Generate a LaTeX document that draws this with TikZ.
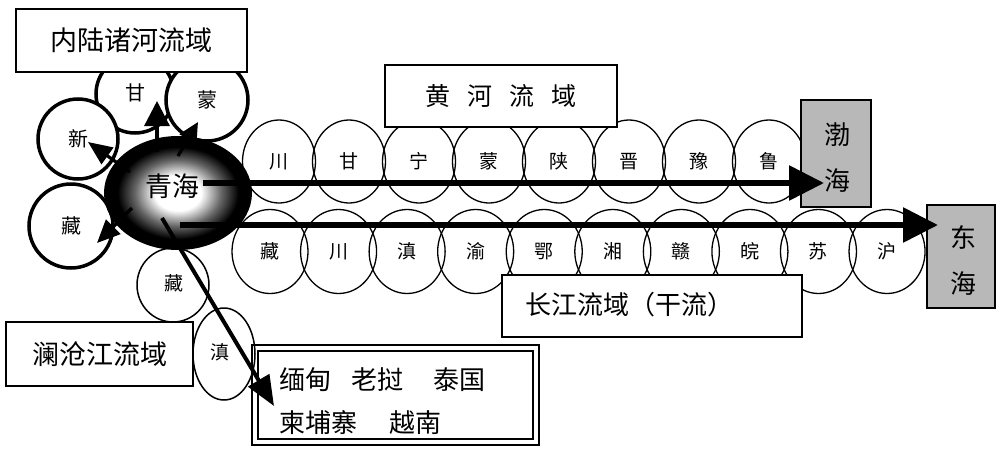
\documentclass[tikz,border=0pt]{standalone}
\usepackage{fontspec}
\newfontfamily\cjk{Noto Sans CJK SC}
\usetikzlibrary{arrows.meta,shapes.geometric}
\pgfdeclareradialshading{qhshade}{\pgfpoint{0bp}{0bp}}{color(0bp)=(white); color(8bp)=(white); color(15bp)=(black!60); color(21bp)=(black); color(50bp)=(black)}
\begin{document}
\begin{tikzpicture}[x=1pt,y=-1pt,
  txt/.style={font=\cjk\fontsize{#1}{#1}\selectfont},
  inland/.style={circle,draw,line width=3.5pt,fill=white,inner sep=0pt,minimum size=#1,txt=20},
  rowell/.style={ellipse,draw,line width=1.3pt,inner sep=0pt,minimum width=#1,txt=19},
  hrow/.style={rowell=73pt,minimum height=83pt},
  yrow/.style={rowell=76pt,minimum height=84pt},
  lcell/.style={ellipse,draw,line width=1.5pt,fill=white,inner sep=0pt,txt=19},
  labelbox/.style={draw,line width=1.6pt,fill=white,inner sep=0pt},
  seabox/.style={draw,line width=2pt,fill=black!28,inner sep=0pt,minimum width=70pt},
  bigarrow/.style={line width=6pt,-{Triangle[length=35pt,width=34pt]}},
  midarrow/.style={line width=4pt,-{Triangle[length=30pt,width=24pt]}},
  smallarrow/.style={line width=3.2pt},
]
\useasboundingbox (0,0) rectangle (996,450);

% inland circles
\node[inland=78pt] (gan) at (135,94) {};
\node[txt=20] at (135,93) {甘};
\node[inland=80pt] (xin) at (78,139) {新};
\node[inland=82pt] (meng) at (207,100) {蒙};
\node[inland=84pt] (zang) at (71,226) {藏};

% inland box
\node[labelbox,minimum width=231pt,minimum height=63pt,txt=27] (inlandbox) at (131.5,40.5) {内陆诸河流域};

% Yellow river row
\foreach \t [count=\i from 0] in {川,甘,宁,蒙,陕,晋,豫,鲁}
  \node[hrow] (h\i) at (279+70*\i,161.5) {\t};
% Yangtze row
\foreach \t [count=\i from 0] in {藏,川,滇,渝,鄂,湘,赣,皖,苏,沪}
  \node[yrow] (y\i) at (270+68.56*\i,251.5) {\t};

% basin boxes
\node[labelbox,minimum width=232pt,minimum height=62pt,txt=25] (hhbox) at (501,96)
  {黄\hspace{17pt}河\hspace{17pt}流\hspace{17pt}域};
\node[labelbox,minimum width=300pt,minimum height=62pt] (cjbox) at (652,306) {};
\node[txt=26,anchor=west] (cjtext) at (522,305) {长江流域（干流）};

% Lancang circles
\node[lcell,minimum width=72pt,minimum height=74pt] (lzang) at (173,285) {};
\node[txt=19] at (174,283) {藏};
\node[lcell,minimum width=62pt,minimum height=92pt] (ldian) at (224,354) {};
\node[txt=19] at (220,352) {滇};
\node[labelbox,minimum width=187pt,minimum height=64pt,txt=27] (lcbox) at (99.5,354) {澜沧江流域};

% Qinghai
\node[ellipse,draw,line width=4pt,shading=qhshade,inner sep=0pt,
      minimum width=144pt,minimum height=110pt] (qh) at (178,193) {};
\node[txt=27] (qhtext) at (172,186) {青海};

% seas
\node[seabox,minimum height=107pt] (bohai) at (836,153.5) {};
\node[txt=26] at (837,135) {渤};
\node[txt=26] at (837,181) {海};
\node[seabox,minimum width=68pt,minimum height=103pt] (donghai) at (961,256.5) {};
\node[txt=26] at (963,237) {东};
\node[txt=26] at (963,284) {海};

% country box
\node[draw,line width=2.2pt,minimum width=287pt,minimum height=100pt,inner sep=0pt] (cbox) at (395.5,395) {};
\node[draw,line width=1.3pt,minimum width=275pt,minimum height=88pt,inner sep=0pt] (cboxin) at (cbox.center) {};
\node[txt=26,anchor=west] (c1) at (276,380) {缅甸\hspace{20pt}老挝\hspace{30pt}泰国};
\node[txt=26,anchor=west] (c2) at (276,423) {柬埔寨\hspace{32pt}越南};

% arrows
\coordinate (hy0) at (203,183);
\coordinate (hy1) at (824,183);
\coordinate (cj0) at (180,225);
\coordinate (cj1) at (938,225);
\draw[bigarrow] (hy0) -- (hy1);
\draw[bigarrow] (cj0) -- (cj1);

\coordinate (lc0) at (162,218);
\coordinate (lc1) at (274,406);
\draw[midarrow] (lc0) -- (lc1);

\coordinate (a0) at (157,152); \coordinate (a1) at (157,101);
\coordinate (b0) at (178,156); \coordinate (b1) at (198,122);
\coordinate (c0) at (130,172); \coordinate (c1e) at (88,142);
\coordinate (d0) at (132,208); \coordinate (d1) at (97,243);
\draw[smallarrow,-{Triangle[length=25pt,width=25pt]}] (a0) -- (a1);
\draw[smallarrow,-{Triangle[length=20pt,width=19pt]}] (b0) -- (b1);
\draw[smallarrow,-{Triangle[length=24pt,width=20pt]}] (c0) -- (c1e);
\draw[smallarrow,-{Triangle[length=23pt,width=20pt]}] (d0) -- (d1);
\end{tikzpicture}
\end{document}
